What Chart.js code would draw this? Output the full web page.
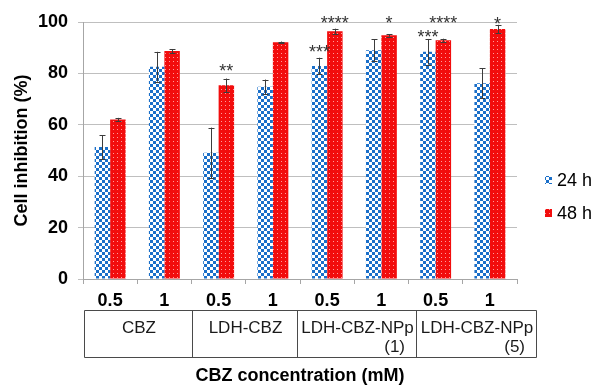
<!DOCTYPE html>
<html>
<head>
<meta charset="utf-8">
<script src="https://cdn.jsdelivr.net/npm/chart.js@4/dist/chart.umd.min.js"></script>
<style>
  html, body { margin: 0; padding: 0; background: #ffffff; }
  #wrap { width: 597px; height: 385px; }
</style>
</head>
<body>
<div id="wrap"><canvas id="c" width="597" height="385"></canvas></div>
<script>
// ---- data ----
const categories = ['0.5', '1', '0.5', '1', '0.5', '1', '0.5', '1'];
const groupNames = ['CBZ', 'LDH-CBZ', 'LDH-CBZ-NPp', 'LDH-CBZ-NPp'];
const groupSubs = ['', '', '(1)', '(5)'];
const seriesNames = ['24 h', '48 h'];
const val24 = [51.4, 82.6, 49.1, 74.8, 82.9, 89.0, 88.4, 76.2];
const err24 = [4.6, 5.8, 9.8, 2.8, 3.2, 4.2, 5.0, 5.9];
const val48 = [62.1, 88.7, 75.4, 92.1, 96.4, 94.8, 92.9, 97.3];
const err48 = [0.6, 0.8, 2.6, 0.3, 1.0, 0.5, 0.6, 1.6];
const stars24 = ['', '', '', '', '***', '', '***', ''];
const stars48 = ['', '', '**', '', '****', '*', '****', '*'];
const starLevel24 = [null, null, null, null, 89.9, null, 95.9, null];
const starLevel48 = [null, null, 82.6, null, 101.2, 101.2, 101.2, 100.8];
const yMin = 0, yMax = 100, yStep = 20;
const yTitle = 'Cell inhibition (%)';
const xTitle = 'CBZ concentration (mM)';

// ---- patterns (styles) ----
function checkerPattern() {
  const cv = document.createElement('canvas');
  cv.width = 6; cv.height = 6;
  const g = cv.getContext('2d');
  g.fillStyle = '#ffffff'; g.fillRect(0, 0, 6, 6);
  g.fillStyle = '#1a6fc9';
  g.fillRect(0, 0, 3, 3); g.fillRect(3, 3, 3, 3);
  return g.createPattern(cv, 'repeat');
}
function dotPattern() {
  const cv = document.createElement('canvas');
  cv.width = 4; cv.height = 4;
  const g = cv.getContext('2d');
  g.fillStyle = '#f20d0d'; g.fillRect(0, 0, 4, 4);
  g.fillStyle = '#ff9c9c'; g.fillRect(1, 1, 1, 1);
  return g.createPattern(cv, 'repeat');
}
const pat24 = checkerPattern();
const pat48 = dotPattern();

const FONT = '"Liberation Sans", Arial, sans-serif';

const extras = {
  id: 'extras',
  afterDraw(chart) {
    const ctx = chart.ctx;
    const x = chart.scales.x, y = chart.scales.y;
    ctx.save();
    // error bars
    const sets = [[val24, err24], [val48, err48]];
    sets.forEach((s, di) => {
      const meta = chart.getDatasetMeta(di);
      meta.data.forEach((bar, i) => {
        const cx = Math.round(bar.x) + 0.5;
        const yt = y.getPixelForValue(s[0][i] + s[1][i]);
        const yb = y.getPixelForValue(s[0][i] - s[1][i]);
        ctx.strokeStyle = '#3c3c3c';
        ctx.lineWidth = 1;
        ctx.beginPath();
        ctx.moveTo(cx, yt); ctx.lineTo(cx, yb);
        ctx.moveTo(cx - 3, Math.round(yt) + 0.5); ctx.lineTo(cx + 3, Math.round(yt) + 0.5);
        ctx.moveTo(cx - 3, Math.round(yb) + 0.5); ctx.lineTo(cx + 3, Math.round(yb) + 0.5);
        ctx.stroke();
      });
    });
    // stars
    ctx.fillStyle = '#333333';
    ctx.font = '18px ' + FONT;
    ctx.textAlign = 'center';
    ctx.textBaseline = 'alphabetic';
    [[stars24, starLevel24], [stars48, starLevel48]].forEach((s, di) => {
      const meta = chart.getDatasetMeta(di);
      meta.data.forEach((bar, i) => {
        if (!s[0][i]) return;
        const cy = y.getPixelForValue(s[1][i]);
        ctx.fillText(s[0][i], bar.x, cy + 10);
      });
    });
    // legend
    const legY = [180, 213];
    const pats = [pat24, pat48];
    seriesNames.forEach((n, i) => {
      ctx.fillStyle = pats[i];
      ctx.fillRect(545, legY[i] - 4, 7, 8);
      ctx.fillStyle = '#000000';
      ctx.font = '18px ' + FONT;
      ctx.textAlign = 'left';
      ctx.textBaseline = 'middle';
      ctx.fillText(n, 557, legY[i] + 1);
    });
    // group table
    const edges = [84, 192, 297, 416, 536];
    const top = 310.5, bottom = 357.5;
    ctx.strokeStyle = '#4a4a4a';
    ctx.lineWidth = 1;
    ctx.beginPath();
    ctx.moveTo(edges[0] + 0.5, top); ctx.lineTo(edges[4] + 0.5, top);
    ctx.moveTo(edges[0] + 0.5, bottom); ctx.lineTo(edges[4] + 0.5, bottom);
    edges.forEach(e => { ctx.moveTo(e + 0.5, top); ctx.lineTo(e + 0.5, bottom); });
    ctx.stroke();
    ctx.fillStyle = '#1a1a1a';
    ctx.font = '17px ' + FONT;
    groupNames.forEach((g, i) => {
      const cx = (edges[i] + edges[i + 1]) / 2 + 1;
      ctx.textAlign = 'center';
      ctx.textBaseline = 'middle';
      ctx.fillText(g, cx, 328);
      if (groupSubs[i]) {
        ctx.textAlign = 'right';
        ctx.fillText(groupSubs[i], edges[i + 1] - 11, 347);
      }
    });
    // x title
    ctx.fillStyle = '#000000';
    ctx.font = 'bold 18px ' + FONT;
    ctx.textAlign = 'center';
    ctx.textBaseline = 'middle';
    ctx.fillText(xTitle, 300, 376);
    ctx.restore();
  }
};

new Chart(document.getElementById('c'), {
  type: 'bar',
  data: {
    labels: categories,
    datasets: [
      { label: seriesNames[0], data: val24, backgroundColor: pat24, borderWidth: 0 },
      { label: seriesNames[1], data: val48, backgroundColor: pat48, borderWidth: 0 }
    ]
  },
  options: {
    responsive: false,
    animation: false,
    devicePixelRatio: 1,
    layout: { padding: { top: 22, right: 80, left: 0, bottom: 0 } },
    categoryPercentage: 0.57,
    barPercentage: 1.0,
    plugins: { legend: { display: false }, tooltip: { enabled: false } },
    scales: {
      x: {
        afterFit(s) { s.height = 106; },
        grid: { display: true, offset: true, drawOnChartArea: false, drawTicks: true, tickLength: 5, color: '#a6a6a6' },
        border: { display: true, color: '#a6a6a6' },
        ticks: { color: '#000000', font: { family: FONT, size: 18, weight: 'bold' }, padding: 6, maxRotation: 0 }
      },
      y: {
        min: yMin, max: yMax,
        afterFit(s) { s.width = 83; },
        grid: { color: '#bfbfbf', tickLength: 5 },
        border: { display: true, color: '#a6a6a6' },
        ticks: { stepSize: yStep, color: '#000000', font: { family: FONT, size: 18, weight: 'bold' }, padding: 10 },
        title: { display: true, text: yTitle, color: '#000000', font: { family: FONT, size: 18, weight: 'bold' }, padding: { top: 11, bottom: 0 } }
      }
    }
  },
  plugins: [extras]
});
</script>
</body>
</html>
